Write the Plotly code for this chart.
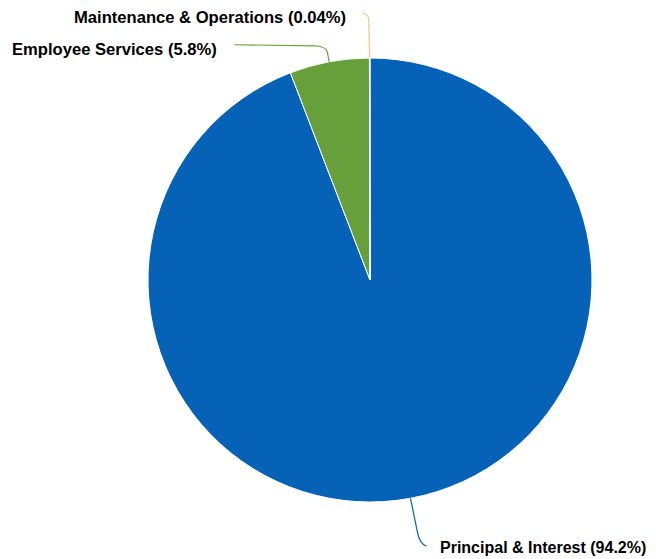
import math
import plotly.graph_objects as go

labels = ["Principal & Interest", "Employee Services", "Maintenance & Operations"]
values = [94.2, 5.8, 0.04]
pct_text = ["94.2%", "5.8%", "0.04%"]
colors = ["#0562B6", "#67A03A", "#F8C47C"]

# page body has an 8px margin, so the figure is drawn 8px in from the corner
OFF = 8
W, H = 656 - OFF, 559 - OFF
cx, cy, r = 370 - OFF, 280 - OFF, 222

fig = go.Figure()
fig.add_trace(go.Pie(
    labels=labels,
    values=values,
    sort=False,
    direction="clockwise",
    rotation=0,
    textinfo="none",
    hoverinfo="label+percent",
    marker=dict(colors=colors, line=dict(color="white", width=1)),
    domain=dict(x=[(cx - r) / W, (cx + r) / W], y=[1 - (cy + r) / H, 1 - (cy - r) / H]),
    showlegend=False,
))


def px2paper(x, y):
    return x / W, 1 - y / H


# mid angle of each slice, measured clockwise from 12 o'clock
total = sum(values)
mids = []
acc = 0
for v in values:
    mids.append((acc + v / 2) / total * 2 * math.pi)
    acc += v

edge = [(cx + r * math.sin(a), cy - r * math.cos(a)) for a in mids]

# connector shapes (pixel coords relative to the slice edge point) and label anchors
conn = []
ex, ey = edge[0]
conn.append(([("M", ex, ey), ("L", ex + 7, ey + 34), ("Q", ex + 9, ey + 45, ex + 16, ey + 48)],
             (ex + 28, ey + 49, "left", 16)))
ex, ey = edge[1]
conn.append(([("M", ex, ey), ("L", ex - 2, ey - 10), ("Q", ex - 3, ey - 15, ex - 14, ey - 16), ("L", ex - 95, ey - 17)],
             (ex - 110, ey - 12, "right", 16.6)))
ex, ey = edge[2]
conn.append(([("M", ex, ey), ("L", ex - 1, ey - 38), ("Q", ex - 1, ey - 44, ex - 7, ey - 45)],
             (ex - 22, ey - 41, "right", 16.6)))

shapes = []
annotations = []
for i, (segs, (lx, ly, anchor, fs)) in enumerate(conn):
    path = ""
    for s in segs:
        pts = s[1:]
        coords = []
        for k in range(0, len(pts), 2):
            px_, py_ = px2paper(pts[k], pts[k + 1])
            coords.append(f"{px_:.5f},{py_:.5f}")
        path += s[0] + " " + " ".join(coords) + " "
    shapes.append(dict(type="path", xref="paper", yref="paper", path=path.strip(),
                       line=dict(color=colors[i], width=1.2)))
    ax, ay = px2paper(lx, ly)
    annotations.append(dict(
        x=ax, y=ay, xref="paper", yref="paper", showarrow=False,
        text=f"<b>{labels[i]} ({pct_text[i]})</b>",
        xanchor=anchor, yanchor="middle",
        font=dict(family="Liberation Sans, Arial, sans-serif", size=fs, color="#000000"),
    ))

fig.update_layout(
    width=W, height=H,
    margin=dict(l=0, r=0, t=0, b=0),
    paper_bgcolor="white",
    plot_bgcolor="white",
    shapes=shapes,
    annotations=annotations,
)

fig.write_html("out.html")
